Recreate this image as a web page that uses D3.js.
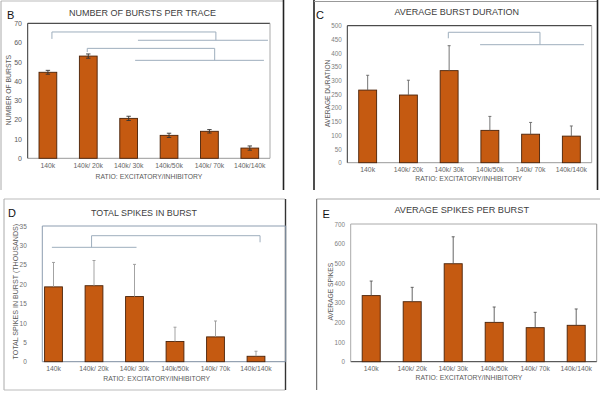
<!DOCTYPE html>
<html><head><meta charset="utf-8">
<script src="https://cdn.jsdelivr.net/npm/d3@7"></script>
<style>
body{margin:0;background:#fff}
svg{display:block}
text{font-family:"Liberation Sans",Arial,sans-serif}
</style>
</head><body>
<svg id="chart" width="600" height="397"></svg>
<script>
// ---------- data ----------
const categories = ["140k", "140k/ 20k", "140k/ 30k", "140k/50k", "140k/ 70k", "140k/140k"];

const burstsPerTrace    = [44.6, 53, 20.7, 11.9, 14, 5.3];
const burstsPerTraceErr = [1.0, 1.1, 1.1, 1.1, 0.9, 1.1];

const burstDuration    = [265, 247, 336, 118, 104, 97];
const burstDurationErr = [54, 54, 91, 51, 43, 37];

const totalSpikes    = [19.3, 19.6, 16.8, 5.2, 6.4, 1.4];
const totalSpikesErr = [6.3, 6.5, 8.3, 3.7, 4.1, 1.3];

const spikesPerBurst    = [336, 305, 498, 200, 173, 185];
const spikesPerBurstErr = [74, 73, 137, 78, 78, 83];

const ticksB = [0, 10, 20, 30, 40, 50, 60, 70];
const ticksC = [0, 50, 100, 150, 200, 250, 300, 350, 400, 450, 500];
const ticksD = [0, 5, 10, 15, 20, 25, 30, 35];
const ticksE = [0, 100, 200, 300, 400, 500, 600, 700];

// significance brackets: polylines of [category index, value]
const bracketsB = [
  [[0.1, 61.9], [0.1, 65.5], [4.16, 65.5], [4.16, 61.2]],
  [[2.23, 61.2], [5.45, 61.2]],
  [[0.975, 55.1], [0.975, 57.0], [4.13, 57.0], [4.13, 50.8]],
  [[2.16, 50.8], [5.35, 50.8]]
];
const bracketsC = [
  [[1.98, 454], [1.98, 476], [4.23, 476], [4.23, 430.7]],
  [[2.76, 430.7], [5.31, 430.7]]
];
const bracketsD = [
  [[-0.04, 29.5], [2.05, 29.5]],
  [[0.94, 29.5], [0.94, 32.5], [5.1, 32.5], [5.1, 30.8]]
];
const bracketsE = [];

// ---------- drawing ----------
const svg = d3.select("#chart");
const BAR_FILL = "#c55a11", BAR_STROKE = "#4a2208", BRACKET = "#9eaebd";

function frame(lines) {
  lines.forEach(l => svg.append("line")
    .attr("x1", l[0]).attr("y1", l[1]).attr("x2", l[2]).attr("y2", l[3])
    .attr("stroke", l[4]).attr("stroke-width", l[5] || 1));
}

function panel(cfg) {
  const g = svg.append("g");
  const y = d3.scaleLinear().domain([0, cfg.max]).range([cfg.box[3], cfg.box[2]]);
  const x = d3.scaleBand().domain(categories).range(cfg.band)
    .paddingInner(0.56).paddingOuter(0.28);
  const xi = i => x(categories[0]) + x.bandwidth() / 2 + i * x.step();

  // plot box
  const [bx0, bx1, by0, by1] = cfg.box;
  const sides = [
    [bx0, by0, bx1, by0, cfg.boxCol.top],
    [bx1, by0, bx1, by1, cfg.boxCol.right],
    [bx0, by1, bx1, by1, cfg.boxCol.bottom],
    [bx0, by0, bx0, by1, cfg.boxCol.left]
  ];
  sides.forEach(s => g.append("line").attr("x1", s[0]).attr("y1", s[1]).attr("x2", s[2]).attr("y2", s[3])
    .attr("stroke", s[4]).attr("stroke-width", 1));

  // y axis labels
  const ya = d3.axisLeft(y).tickValues(cfg.ticks).tickSize(0).tickPadding(0);
  const yg = g.append("g").attr("transform", `translate(${cfg.band[0] - cfg.tickGap},0)`).call(ya);
  yg.select(".domain").remove();
  yg.selectAll("text").attr("fill", cfg.tickCol).style("font-size", cfg.tickFont + "px")
    .style("font-family", '"Liberation Sans",Arial,sans-serif');

  // x axis labels
  const xa = d3.axisBottom(x).tickSize(0).tickPadding(0);
  const xg = g.append("g").attr("transform", `translate(0,${by1 + cfg.xLabGap})`).call(xa);
  xg.select(".domain").remove();
  xg.selectAll("text").attr("fill", "#666").attr("dy", "0.35em").attr("y", 0)
    .style("font-size", "6.8px").style("font-family", '"Liberation Sans",Arial,sans-serif');

  // bars
  g.selectAll("rect.bar").data(cfg.values).enter().append("rect")
    .attr("x", (d, i) => x(categories[i]))
    .attr("y", d => y(d))
    .attr("width", x.bandwidth())
    .attr("height", d => y(0) - y(d))
    .attr("fill", BAR_FILL).attr("stroke", BAR_STROKE).attr("stroke-width", 0.9);

  // error bars
  cfg.errors.forEach((e, i) => {
    const cx = xi(i), v = cfg.values[i];
    const lo = cfg.symmetric ? v - e : v;
    g.append("line").attr("x1", cx).attr("x2", cx).attr("y1", y(lo)).attr("y2", y(v + e))
      .attr("stroke", cfg.errCol).attr("stroke-width", 0.9);
    g.append("line").attr("x1", cx - cfg.cap).attr("x2", cx + cfg.cap).attr("y1", y(v + e)).attr("y2", y(v + e))
      .attr("stroke", cfg.errCol).attr("stroke-width", 0.9);
    if (cfg.symmetric)
      g.append("line").attr("x1", cx - cfg.cap).attr("x2", cx + cfg.cap).attr("y1", y(lo)).attr("y2", y(lo))
        .attr("stroke", cfg.errCol).attr("stroke-width", 0.9);
  });

  // brackets
  const line = d3.line().x(p => xi(p[0])).y(p => y(p[1]));
  cfg.brackets.forEach(b => g.append("path").attr("d", line(b))
    .attr("fill", "none").attr("stroke", BRACKET).attr("stroke-width", 1));

  // titles
  g.append("text").attr("x", cfg.title[1]).attr("y", cfg.title[2]).attr("text-anchor", "middle")
    .attr("dy", "0.35em").attr("fill", "#404040").style("font-size", cfg.title[3] + "px").text(cfg.title[0]);
  g.append("text").attr("x", cfg.xTitle[1]).attr("y", cfg.xTitle[2]).attr("text-anchor", "middle")
    .attr("dy", "0.35em").attr("fill", "#595959").style("font-size", "6.8px").text(cfg.xTitle[0]);
  g.append("text").attr("transform", `translate(${cfg.yTitle[1]},${cfg.yTitle[2]}) rotate(-90)`)
    .attr("text-anchor", "middle").attr("dy", "0.35em").attr("fill", "#595959")
    .style("font-size", cfg.yTitle[3] + "px").text(cfg.yTitle[0]);
  g.append("text").attr("x", cfg.letter[1]).attr("y", cfg.letter[2]).attr("dy", "0.35em")
    .attr("fill", "#111").style("font-size", "11px").text(cfg.letter[0]);
}

// panel frames
frame([
  [1, 1, 283, 1, "#bbb"], [1, 1, 1, 190, "#aaa"], [283.5, 0, 283.5, 190, "#222", 1.6],
  [314, 0, 314, 190, "#222", 1.6], [314, 1.5, 597, 1.5, "#999"], [597.5, 0, 597.5, 190, "#222", 1.6],
  [4, 199, 285, 199, "#bbb"], [4, 199, 4, 390, "#aaa"], [4, 390, 285, 390, "#bbb"], [285.5, 199, 285.5, 390, "#333", 1.4],
  [316.7, 199, 600, 199, "#aaa"], [316.7, 199, 316.7, 390, "#555"]
]);

panel({
  values: burstsPerTrace, errors: burstsPerTraceErr, ticks: ticksB, max: 70, brackets: bracketsB,
  box: [27.7, 270, 23.3, 158.3], band: [27.7, 270], tickGap: 5.7, tickFont: 7, xLabGap: 7.4, tickCol: "#595959",
  boxCol: {top: "#222", left: "#333", right: "#aaa", bottom: "#999"},
  symmetric: true, errCol: "#333", cap: 2.2,
  title: ["NUMBER OF BURSTS PER TRACE", 142.5, 13.3, 9], xTitle: ["RATIO: EXCITATORY/INHIBITORY", 149, 176.7],
  yTitle: ["NUMBER OF BURSTS", 9, 90, 6.8], letter: ["B", 7, 15]
});
panel({
  values: burstDuration, errors: burstDurationErr, ticks: ticksC, max: 500, brackets: bracketsC,
  box: [347.3, 591.7, 25.7, 162.7], band: [347.3, 591.7], tickGap: 5.6, tickFont: 6.3, xLabGap: 6.6, tickCol: "#808080",
  boxCol: {top: "#222", left: "#333", right: "#aaa", bottom: "#999"},
  symmetric: false, errCol: "#666", cap: 1.5,
  title: ["AVERAGE BURST DURATION", 456.7, 12.3, 9], xTitle: ["RATIO: EXCITATORY/INHIBITORY", 468.7, 179],
  yTitle: ["AVERAGE DURATION", 327.3, 93.3, 6.6], letter: ["C", 316, 15]
});
panel({
  values: totalSpikes, errors: totalSpikesErr, ticks: ticksD, max: 35, brackets: bracketsD,
  box: [42.3, 285.7, 226, 361.7], band: [33.25, 276.25], tickGap: 6.5, tickFont: 6.5, xLabGap: 6.6, tickCol: "#707070",
  boxCol: {top: "#8d9db0", left: "#8d9db0", right: "#8d9db0", bottom: "#7d8da0"},
  symmetric: false, errCol: "#999", cap: 1.5,
  title: ["TOTAL SPIKES IN BURST", 144, 213.3, 8.9], xTitle: ["RATIO: EXCITATORY/INHIBITORY", 156.7, 378.3],
  yTitle: ["TOTAL SPIKES IN BURST (THOUSANDS)", 15, 291.7, 7.1], letter: ["D", 8, 213.5]
});
panel({
  values: spikesPerBurst, errors: spikesPerBurstErr, ticks: ticksE, max: 700, brackets: bracketsE,
  box: [350.7, 596.7, 224, 361.7], band: [350.7, 596.7], tickGap: 5.7, tickFont: 6.3, xLabGap: 6.6, tickCol: "#808080",
  boxCol: {top: "#aaa", left: "#aaa", right: "#999", bottom: "#333"},
  symmetric: false, errCol: "#555", cap: 1.5,
  title: ["AVERAGE SPIKES PER BURST", 461.7, 210, 9.2], xTitle: ["RATIO:  EXCITATORY/INHIBITORY", 469, 377.7],
  yTitle: ["AVERAGE SPIKES", 330.7, 291.7, 6.7], letter: ["E", 322.5, 214]
});
</script>
</body></html>
